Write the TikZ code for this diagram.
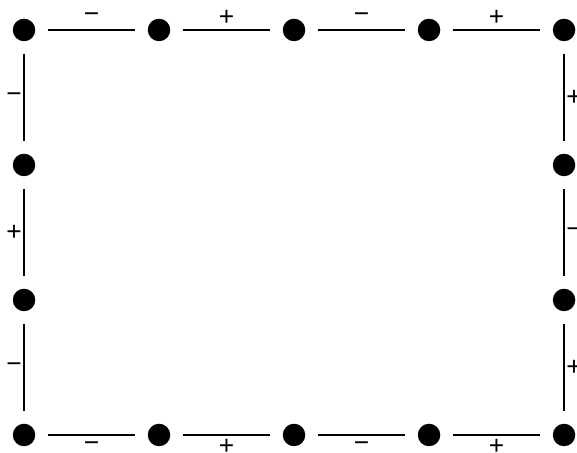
\documentclass[tikz,border=0pt]{standalone}
\usepackage{fontspec}
\setmainfont{Liberation Sans}
\usepackage{tikz}

\begin{document}
\begin{tikzpicture}[x=2.7cm,y=2.7cm,
    dot/.style={circle,fill=black,minimum size=0.45cm,inner sep=0pt},
    wire/.style={line width=1pt,shorten <=0.24cm,shorten >=0.24cm},
    sgn/.style={font=\fontsize{15}{15}\selectfont,inner sep=0pt}]
  \useasboundingbox (-0.178,-0.133) rectangle (4.096,3.222);
  % charges on the frame
  \foreach \i in {0,...,4}{
    \node[dot] (t\i) at (\i,3) {};
    \node[dot] (b\i) at (\i,0) {};
  }
  \foreach \j in {1,2}{
    \node[dot] (l\j) at (0,\j) {};
    \node[dot] (r\j) at (4,\j) {};
  }
  % top and bottom rows
  \foreach \a/\b/\s in {0/1/−,1/2/+,2/3/−,3/4/+}{
    \draw[wire] (t\a) -- node[sgn,yshift=0.24cm] {\s} (t\b);
    \draw[wire] (b\a) -- node[sgn,yshift=-0.23cm] {\s} (b\b);
  }
  % left and right sides
  \draw[wire] (t0) -- node[sgn,xshift=-0.2cm] {−} (l2);
  \draw[wire] (l2) -- node[sgn,xshift=-0.2cm] {+} (l1);
  \draw[wire] (l1) -- node[sgn,xshift=-0.2cm] {−} (b0);
  \draw[wire] (t4) -- node[sgn,xshift=0.2cm] {+} (r2);
  \draw[wire] (r2) -- node[sgn,xshift=0.2cm] {−} (r1);
  \draw[wire] (r1) -- node[sgn,xshift=0.2cm] {+} (b4);
\end{tikzpicture}
\end{document}
